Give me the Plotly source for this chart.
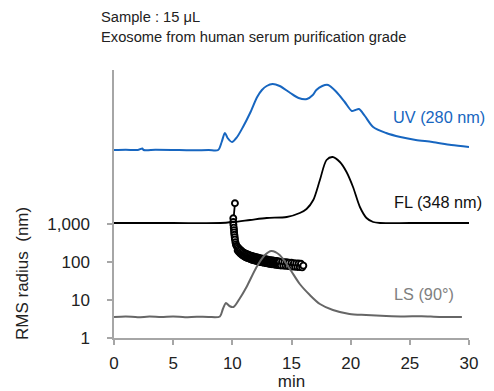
import plotly.graph_objects as go

# ---- data ----
# UV (280 nm) detector signal, arbitrary units
uv_time = [0, 1.0, 2.0, 2.4, 2.5, 3.5, 5.0, 6.5, 8.0, 8.8, 9.1, 9.37, 9.6, 9.97, 10.4, 10.9, 11.5,
           12.1, 12.5, 12.9, 13.4, 14.0, 14.9, 15.6, 16.3, 16.8, 17.1, 17.6, 18.1, 18.8, 19.5,
           20.1, 20.4, 20.7, 21.2, 21.9, 23.0, 24.2, 25.5, 26.9, 28.5, 30.0]
uv_signal = [0, 0.3, 0, 1.5, 0, 0.2, 0, -0.3, 0, 0, 8, 17, 12, 8, 13, 23, 37,
             53, 60, 64, 66, 64, 57, 52, 51, 55, 60, 64, 65, 58, 48,
             39, 40, 41, 34, 23, 17, 13, 10, 8, 5, 3]

# FL (348 nm) detector signal, arbitrary units
fl_time = [0, 5.0, 9.0, 10.1, 11.5, 12.9, 14.6, 15.7, 16.27, 16.84, 17.4, 17.96, 18.47,
           19.09, 19.65, 20.2, 20.78, 21.34, 21.9, 22.5, 25.0, 30.0]
fl_signal = [0, 0, 0, 1, 3, 5, 6, 10, 14, 23, 43, 63, 66,
             61, 51, 36, 16, 5, 1, 0, 0, 0]

# LS (90 deg) detector signal, arbitrary units
ls_time = [0, 1.0, 2.0, 3.0, 4.0, 5.0, 6.0, 7.0, 8.0, 8.95, 9.2, 9.46, 9.75, 10.1, 10.6, 11.2,
           12.05, 12.75, 13.3, 14.0, 14.86, 15.7, 16.55, 17.4, 18.5, 19.9, 21.3, 23.0,
           24.5, 26.0, 27.5, 29.4]
ls_signal = [0, 0.6, -0.3, 0.4, 0, 0.5, -0.2, 0.3, 0, 0.5, 8, 14, 11, 10, 18, 30,
             50, 62, 66, 62, 48, 33, 22, 13, 7, 3, 2, 1,
             0.5, 0.8, 0, 0]

# RMS radius (nm)
rms_time = [10.22, 10.08, 10.08, 10.09, 10.12, 10.14, 10.15, 10.17, 10.20, 10.22, 10.26,
            10.30, 10.36,
            10.40, 10.45, 10.50, 10.55, 10.60, 10.65, 10.70, 10.75, 10.80, 10.85, 10.90, 10.95,
            11.00, 11.05, 11.10, 11.15, 11.20, 11.25, 11.30, 11.35, 11.40, 11.45, 11.50, 11.55,
            11.60, 11.65, 11.70, 11.75, 11.80, 11.85, 11.90, 11.95, 12.00, 12.05, 12.10, 12.15,
            12.20, 12.25, 12.30, 12.35, 12.40, 12.45, 12.50, 12.55, 12.60, 12.65, 12.70, 12.75,
            12.80, 12.85, 12.90, 12.95, 13.00, 13.05, 13.10, 13.15, 13.20, 13.25, 13.30, 13.35,
            13.40, 13.45, 13.50, 13.55, 13.60, 13.65, 13.70, 13.75, 13.80, 13.85, 13.90, 13.95,
            14.00, 14.10, 14.20, 14.30, 14.40, 14.50, 14.60, 14.70, 14.80, 14.90, 15.00, 15.10,
            15.20, 15.30, 15.40, 15.50, 15.60, 15.70, 15.80, 15.90, 16.00]
rms_radius = [3500, 1410, 1130, 960, 800, 690, 600, 520, 450, 390, 330,
              290, 262,
              255, 200, 236, 184, 220, 171, 205, 159, 192, 150, 182, 143,
              173, 137, 167, 132, 162, 128, 157, 125, 153, 121, 149, 118,
              145, 115, 142, 112, 139, 110, 136, 108, 133, 106, 131, 104,
              129, 102, 126, 100, 124, 99, 122, 97, 121, 96, 119, 95,
              118, 93, 116, 92, 114, 91, 112, 89, 111, 88.5, 110, 87.5,
              109, 87, 108, 86, 107, 85, 106, 84, 104, 83, 103, 82,
              102, 81, 101, 80, 99, 79, 98, 78, 96, 76.5, 95, 75.5,
              93, 74.5, 92, 74, 91, 73, 90, 72, 80]

x_ticks = [0, 5, 10, 15, 20, 25, 30]
y_ticks = [1, 10, 100, 1000]
y_ticktext = ["1", "10", "100", "1,000"]

AX = "#a6a6a6"
FONT = "Liberation Sans, Arial, Helvetica, sans-serif"
OFF = 8                      # default page (body) margin of the written html
W, H = 494 - OFF, 391 - OFF  # figure size
L, R, T, B = 114 - OFF, 25, 70 - OFF, 53

fig = go.Figure()

fig.add_trace(go.Scatter(
    x=rms_time, y=rms_radius, mode="lines+markers", yaxis="y",
    line=dict(color="black", width=1.8),
    marker=dict(symbol="circle", size=6, color="white", line=dict(color="black", width=1.9)),
    hoverinfo="skip"))

fig.add_trace(go.Scatter(
    x=fl_time, y=fl_signal, mode="lines", yaxis="y3",
    line=dict(color="black", width=1.8, shape="spline", smoothing=0.8)))

fig.add_trace(go.Scatter(
    x=uv_time, y=uv_signal, mode="lines", yaxis="y2",
    line=dict(color="#1766c0", width=2, shape="spline", smoothing=0.8)))

fig.add_trace(go.Scatter(
    x=ls_time, y=ls_signal, mode="lines", yaxis="y4",
    line=dict(color="#666666", width=2, shape="spline", smoothing=0.8)))

fig.update_layout(
    width=W, height=H,
    margin=dict(l=L, r=R, t=T, b=B, autoexpand=False),
    paper_bgcolor="white", plot_bgcolor="white",
    showlegend=False,
    font=dict(family=FONT, size=17, color="#222222"),
    xaxis=dict(
        range=[0, 30], tickvals=x_ticks, showgrid=False, zeroline=False,
        showline=True, linecolor=AX, linewidth=1.5,
        ticks="outside", ticklen=5, tickcolor=AX, tickwidth=1.5,
        ticklabelstandoff=4,
        tickfont=dict(size=17, color="#222222"),
        title=dict(text="min", font=dict(size=17, color="#222222"), standoff=15)),
    yaxis=dict(
        type="log", range=[0, 7.05], tickvals=y_ticks, ticktext=y_ticktext,
        showgrid=False, zeroline=False,
        showline=True, linecolor=AX, linewidth=1.5,
        ticks="outside", ticklen=5, tickcolor=AX, tickwidth=1.5,
        ticklabelstandoff=14,
        tickfont=dict(size=17, color="#222222")),
    yaxis2=dict(overlaying="y", range=[-188, 80], visible=False),
    yaxis3=dict(overlaying="y", range=[-115, 153], visible=False),
    yaxis4=dict(overlaying="y", range=[-21, 247], visible=False),
)


def px_ann(text, xpx, ypx, color="#222222", size=17, xanchor="left", angle=0):
    # pixel position on the page -> paper coordinates of the plot area
    fx, fy = xpx - OFF, ypx - OFF
    xp = (fx - L) / (W - L - R)
    yp = (H - B - fy) / (H - T - B)
    fig.add_annotation(text=text, xref="paper", yref="paper", x=xp, y=yp,
                       xanchor=xanchor, yanchor="middle", showarrow=False,
                       textangle=angle, font=dict(family=FONT, size=size, color=color))


px_ann("Sample : 15 μL", 99, 17, size=14.7)
px_ann("Exosome from human serum purification grade", 99, 37, size=14.7)
px_ann("UV (280 nm)", 391, 117, color="#1766c0", size=16.3)
px_ann("FL (348 nm)", 392, 202, color="#111111", size=16.3)
px_ann("LS (90°)", 392, 294, color="#808080", size=16.3)
px_ann("RMS radius  (nm)", 22, 274, xanchor="center", angle=-90)

fig.write_html("out.html")
